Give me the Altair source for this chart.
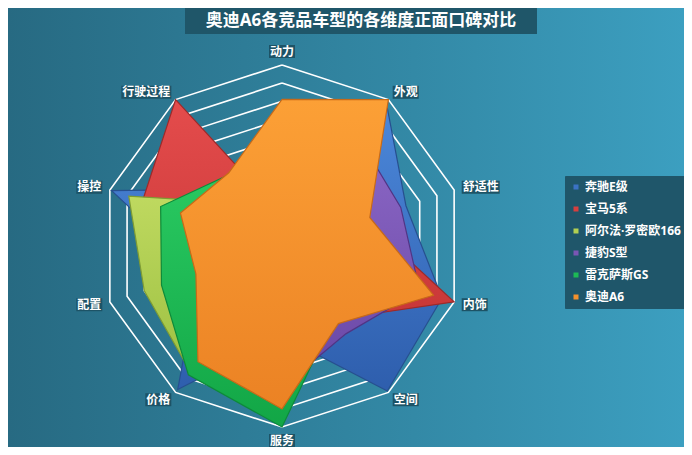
import altair as alt
import pandas as pd

# ---------------- data ----------------
axes = ["动力", "外观", "舒适性", "内饰", "空间", "服务", "价格", "配置", "操控", "行驶过程"]
series_names = ["奔驰E级", "宝马5系", "阿尔法·罗密欧166", "捷豹S型", "雷克萨斯GS", "奥迪A6"]

benz   = [7.0, 9.8, 7.2, 9.3, 9.9, 5.0, 9.8, 4.8, 9.9, 3.9]
bmw    = [1.7, 5.0, 4.8, 10.0, 5.0, 6.0, 6.0, 6.0, 8.1, 10.0]
alfa   = [4.0, 6.0, 4.0, 6.0, 4.0, 7.5, 8.6, 8.0, 8.9, 2.9]
jaguar = [6.0, 7.3, 6.9, 8.0, 6.0, 7.8, 7.0, 6.0, 6.0, 4.0]
lexus  = [5.0, 7.0, 4.5, 7.0, 4.9, 10.0, 8.8, 7.0, 7.05, 4.9]
audi   = [8.1, 10.0, 5.1, 8.8, 5.3, 9.0, 7.9, 5.0, 5.9, 5.0]
series_values = [benz, bmw, alfa, jaguar, lexus, audi]

ring_levels = list(range(1, 11))
title_text = "奥迪A6各竞品车型的各维度正面口碑对比"

# ---------------- styling / layout ----------------
W, H = 676, 439
CX, CY, R = 274, 238, 181
VMAX = 10
N = len(axes)
FONT = "Noto Sans, Noto Sans CJK SC"

top_colors    = ["#4c88da", "#e44c4c", "#c6de66", "#8c68c6", "#2ccd64", "#fca036"]
bottom_colors = ["#2e5ead", "#c43434", "#9bbf40", "#6846a4", "#12a646", "#eb8224"]
stroke_colors = ["#27508f", "#9c2a2a", "#7f9c33", "#513585", "#0e8a3a", "#c86a18"]
legend_colors = ["#3b72c4", "#d63f3f", "#b2cf52", "#7a56b4", "#1dba55", "#f4912c"]

xs = alt.Scale(domain=[0, W], nice=False, zero=False)
ys = alt.Scale(domain=[0, H], reverse=True, nice=False, zero=False)


def polar(chart, field):
    return (
        chart.transform_calculate(ang=f"datum.idx*2*PI/{N}")
        .transform_calculate(px=f"{CX}+datum.{field}/{VMAX}*{R}*sin(datum.ang)")
        .transform_calculate(py=f"{CY}-datum.{field}/{VMAX}*{R}*cos(datum.ang)")
    )


# background gradient
bg = alt.Chart(pd.DataFrame({"a": [0]})).mark_rect(
    fill=alt.LinearGradient(
        gradient="linear",
        stops=[
            alt.GradientStop(offset=0, color="#276a82"),
            alt.GradientStop(offset=0.6, color="#3389a6"),
            alt.GradientStop(offset=1, color="#3c9fc0"),
        ],
        x1=0, x2=1, y1=0, y2=0,
    )
).encode(x=alt.value(0), x2=alt.value(W), y=alt.value(0), y2=alt.value(H))

# grid rings
ring_rows = [{"ring": k, "idx": i, "v": k} for k in ring_levels for i in range(N + 1)]
rings = polar(alt.Chart(pd.DataFrame(ring_rows)), "v").mark_line(
    stroke="white", strokeWidth=1.6
).encode(
    x=alt.X("px:Q", scale=xs, axis=None),
    y=alt.Y("py:Q", scale=ys, axis=None),
    detail="ring:N",
    order="idx:Q",
)

# legend carrier (hidden under the polygons)
leg = alt.Chart(pd.DataFrame({"series": series_names})).mark_square(size=25, opacity=1).encode(
    x=alt.value(CX),
    y=alt.value(CY),
    fill=alt.Fill(
        "series:N",
        scale=alt.Scale(domain=series_names, range=legend_colors),
        legend=alt.Legend(
            orient="none", legendX=557, legendY=168, title=None,
            fillColor="#1f566a", strokeColor="#1f566a", padding=5,
            symbolType="square", symbolSize=25, symbolStrokeWidth=0,
            labelColor="white", labelFont=FONT, labelFontSize=12, labelFontWeight="bold",
            rowPadding=10, labelOffset=3, labelLimit=200,
        ),
    ),
)

# polygons
polys = []
for name, vals, tc, bc, sc in zip(series_names, series_values, top_colors, bottom_colors, stroke_colors):
    rows = [{"idx": i, "value": vals[i % N]} for i in range(N + 1)]
    p = polar(alt.Chart(pd.DataFrame(rows)), "value").mark_line(
        fill=alt.LinearGradient(
            gradient="linear",
            stops=[alt.GradientStop(offset=0, color=tc), alt.GradientStop(offset=1, color=bc)],
            x1=0, x2=0, y1=0, y2=1,
        ),
        stroke=sc, strokeWidth=1.2, strokeJoin="miter",
    ).encode(
        x=alt.X("px:Q", scale=xs, axis=None),
        y=alt.Y("py:Q", scale=ys, axis=None),
        order="idx:Q",
    )
    polys.append(p)

# axis labels with boxes
LFS = 12
lab_df = pd.DataFrame({"axis": axes, "idx": list(range(N)), "n": [len(a) for a in axes]})
lab_base = (
    alt.Chart(lab_df)
    .transform_calculate(ang=f"datum.idx*2*PI/{N}")
    .transform_calculate(s="sin(datum.ang)", c="cos(datum.ang)", w=f"datum.n*{LFS}")
    .transform_calculate(
        lx=f"{CX}+(abs(sin(datum.ang)) < 0.01 ? {R + 7} : {R + 9})*datum.s",
        ly=f"{CY}-(abs(sin(datum.ang)) < 0.01 ? {R + 7} : {R + 9})*datum.c",
    )
    .transform_calculate(
        tx="datum.lx + (datum.s > 0.01 ? datum.w/2 : (datum.s < -0.01 ? -datum.w/2 : 0))",
        ty="datum.ly + (abs(datum.s) < 0.01 ? (datum.c > 0 ? -6.5 : 6.5) : 0)",
    )
    .transform_calculate(
        bx1="datum.tx - datum.w/2 - 1", bx2="datum.tx + datum.w/2 + 1",
        by1="datum.ty - 6.5", by2="datum.ty + 6.5",
    )
)
lab_box = lab_base.mark_rect(fill="#1d5366").encode(
    x=alt.X("bx1:Q", scale=xs, axis=None), x2="bx2:Q",
    y=alt.Y("by1:Q", scale=ys, axis=None), y2="by2:Q",
)
lab_txt = lab_base.mark_text(
    font=FONT, fontSize=LFS, fontWeight="bold", color="white", align="center", baseline="middle"
).encode(
    x=alt.X("tx:Q", scale=xs, axis=None),
    y=alt.Y("ty:Q", scale=ys, axis=None),
    text="axis:N",
)

# title with box
tdf = pd.DataFrame({"t": [title_text]})
title_box = alt.Chart(tdf).mark_rect(fill="#1f5669").encode(
    x=alt.value(177), x2=alt.value(529), y=alt.value(0), y2=alt.value(26)
)
title_txt = alt.Chart(tdf).mark_text(
    font=FONT, fontSize=17, fontWeight="bold", color="white", align="center", baseline="middle"
).encode(x=alt.value(353), y=alt.value(13), text="t:N")

chart = alt.layer(
    bg, rings, leg, *polys, lab_box, lab_txt, title_box, title_txt
).properties(
    width=W, height=H, padding=0, autosize="none", background="#2f7f97"
).configure_view(stroke=None)

chart.save("out.html", embed_options={"renderer": "svg", "actions": False})
